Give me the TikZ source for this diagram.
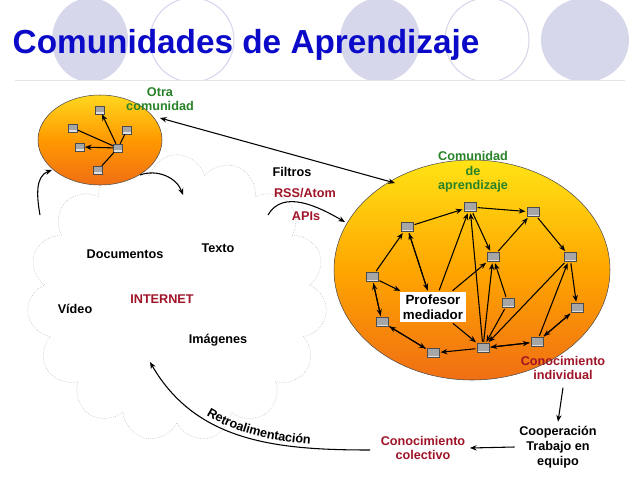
\documentclass[tikz,border=0pt]{standalone}
\usepackage{fontspec}
\setmainfont{Liberation Sans}
\usetikzlibrary{shapes.symbols,arrows.meta,decorations.text,shadings}
\definecolor{ttl}{RGB}{10,10,200}
\definecolor{lav}{RGB}{215,215,235}
\definecolor{grn}{RGB}{40,130,40}
\definecolor{drd}{RGB}{160,20,40}
\definecolor{orb}{RGB}{240,110,20}
\definecolor{ory}{RGB}{255,215,30}
\begin{document}
\begin{tikzpicture}[x=0.75pt,y=-0.75pt,
 lap/.style={draw=gray!60!black,fill=gray!70,minimum width=9pt,minimum height=7pt,inner sep=0pt,
   path picture={\fill[gray!25] ([yshift=0pt]path picture bounding box.south west) rectangle ([yshift=1.5pt]path picture bounding box.south east);}},
 lbl/.style={font=\bfseries\fontsize{9.5}{11}\selectfont,align=center},
 ar/.style={-{Stealth[length=5pt,width=4pt]},thick},
 arr/.style={{Stealth[length=5pt,width=4pt]}-{Stealth[length=5pt,width=4pt]},thick}]
\useasboundingbox (0,0) rectangle (640,479);
\fill[white] (0,0) rectangle (640,479);
% background circles
\fill[lav] (90,40) ellipse (38 and 42);
\draw[lav,thick] (192,40) ellipse (42 and 42);
\fill[lav] (380,40) ellipse (40 and 42);
\draw[lav,thick] (487,40) ellipse (42 and 42);
\fill[lav] (585,40) ellipse (44 and 42);
\fill[white] (0,80) rectangle (640,479);
\draw[gray!20] (15,80) -- (625,80);
\node[anchor=west,text=ttl,font=\bfseries\fontsize{25}{30}\selectfont] (title) at (8,45) {Comunidades de Aprendizaje};
% cloud
\node[cloud,cloud puffs=15,aspect=1.1,draw=gray!60,densely dotted,minimum width=225pt,minimum height=215pt] (cloud) at (177,298) {};
\node[lbl] (doc) at (125,254) {Documentos};
\node[lbl] (tex) at (218,248) {Texto};
\node[lbl,text=drd] (int) at (162,299) {INTERNET};
\node[lbl] (vid) at (75,309) {Vídeo};
\node[lbl] (img) at (218,340) {Imágenes};
% small ellipse
\shade[top color=ory,bottom color=orb,middle color=orange!80!yellow,draw=black!70] (100,140) ellipse (62 and 45);
\coordinate (sc) at (105,140);
\foreach \n/\p in {a/{(100,110)},b/{(127,130)},c/{(118,148)},d/{(80,147)},e/{(73,128)},f/{(98,170)}}{
 \node[lap,minimum width=7pt,minimum height=6pt] (s\n) at \p {};}
\draw[ar] (sc) -- (sa); \draw[ar] (sc) -- (sd); \draw[thick] (sc) -- (sb); \draw[thick] (sc) -- (se); \draw[thick] (sc) -- (sf); \draw[thick] (sc) -- (sc);
\node[lbl,text=grn] (otra) at (160,99) {Otra\\comunidad};
% big ellipse
\shade[top color=ory!70!yellow,bottom color=orb,middle color=orange!70!yellow,draw=black!70] (472,270) ellipse (138 and 110);
\node[lbl,text=grn] (com) at (473,172) {Comunidad\\de\\aprendizaje};
\foreach \n/\p in {1/{(407,227)},2/{(470,207)},3/{(533,212)},4/{(493,257)},5/{(570,257)},6/{(372,277)},7/{(508,303)},8/{(577,308)},9/{(382,322)},10/{(433,353)},11/{(483,348)},12/{(537,342)}}{
 \node[lap] (L\n) at \p {};}
\node[lbl,fill=white,inner sep=2pt,font=\bfseries\fontsize{10}{11.5}\selectfont] (Lp) at (433,307) {Profesor\\mediador};
\foreach \a/\b in {1/2,2/3,3/5,2/4,4/3,6/1,1/p,p/2,p/4,9/6,6/9,10/9,11/10,11/4,7/4,7/11,5/11,5/8,8/12,12/8,11/12,12/11,12/5,p/11,9/10,6/p,p/1,11/2}{
 \draw[ar,shorten >=1pt,shorten <=1pt] (L\a) -- (L\b);}
\node[lbl,text=drd] (ci) at (563,368) {Conocimiento\\individual};
\node[lbl] (coop) at (558,447) {Cooperación\\Trabajo en\\equipo};
\node[lbl,text=drd] (cc) at (423,448) {Conocimiento\\colectivo};
\draw[ar] (ci.south) ++(0,3) -- (coop.north);
\draw[ar] (coop.west) -- (cc.east);
% top labels
\node[lbl] (fil) at (292,172) {Filtros};
\node[lbl,text=drd] (rss) at (305,193) {RSS/Atom};
\node[lbl,text=drd] (api) at (306,216) {APIs};
\draw[arr] (160,118) -- (395,183);
\draw[ar] (140,175) to[out=20,in=110] (183,195);
\draw[ar] (40,215) to[out=100,in=200] (52,170);
\draw[ar] (268,215) to[out=60,in=150] (345,222);
\draw[{Stealth[length=5pt,width=4pt]}-,thick,postaction={decorate,decoration={text along path,text align=right,text align/right indent=45pt,raise=3pt,text={|\bfseries\fontsize{9.5}{11}\selectfont|Retroalimentación}}}] (150,362) to[out=-60,in=180] (370,450);
\end{tikzpicture}
\end{document}
